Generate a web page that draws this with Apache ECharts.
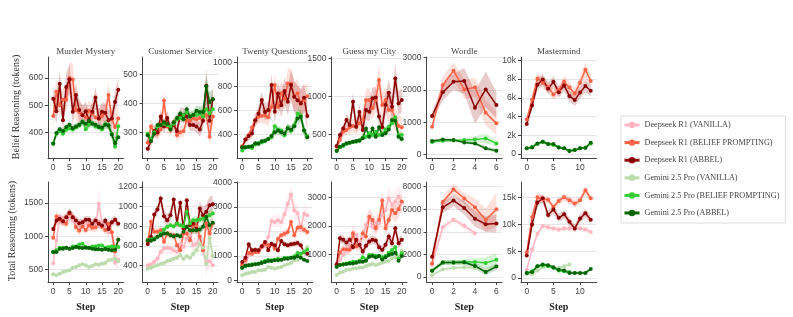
<!DOCTYPE html>
<html><head><meta charset="utf-8">
<script src="https://cdn.jsdelivr.net/npm/echarts@6/dist/echarts.min.js"></script>
<style>html,body{margin:0;padding:0;background:#fff}#c{width:793px;height:317px}</style>
</head><body><div id="c"></div>
<script>
// ---------- Series names / colours ----------
const NAMES = ['Deepseek R1 (VANILLA)','Deepseek R1 (BELIEF PROMPTING)','Deepseek R1 (ABBEL)','Gemini 2.5 Pro (VANILLA)','Gemini 2.5 Pro (BELIEF PROMPTING)','Gemini 2.5 Pro (ABBEL)'];
const COLORS = ['#ffb6c1','#ff6347','#8b0000','#bcdcae','#32cd32','#006400'];
const TITLES = ['Murder Mystery','Customer Service','Twenty Questions','Guess my City','Wordle','Mastermind'];

// ---------- Tick labels ----------
const X21_TICKS = [0,5,10,15,20];
const X7_TICKS = [0,2,4,6];
const X13_TICKS = [0,5,10];
const mmB_yt = [400,500,600];
const csB_yt = [300,400,500];
const tqB_yt = [400,600,800,1000];
const gcB_yt = [500,1000,1500];
const wdB_yt = [0,1000,2000,3000];
const mmdB_yt = [0,2000,4000,6000,8000,10000];
const mmT_yt = [500,1000,1500];
const csT_yt = [400,600,800,1000,1200];
const tqT_yt = [0,1000,2000,3000,4000];
const gcT_yt = [1000,2000,3000];
const wdT_yt = [0,2000,4000,6000,8000];
const mmdT_yt = [0,5000,10000,15000];

// ---------- Belief reasoning (top row) ----------
const mmB_dsBP = [460,549,500,520,520,600,594,482,475,465,455,480,470,455,450,460,470,537,450,420,451];
const mmB_dsAB = [524,478,579,445,567,595,476,537,482,463,478,445,476,528,451,476,472,445,451,512,557];
const mmB_gBP  = [360,395,405,395,410,415,412,420,425,440,412,428,435,422,420,412,430,428,395,348,423];
const mmB_gAB  = [358,398,412,405,420,428,415,422,428,438,432,442,432,428,420,418,428,425,392,360,382];
const mmB_dsBP_e = [45,45,40,40,45,55,60,45,40,35,35,35,35,35,35,35,40,45,45,45,45];
const mmB_dsAB_e = [50,45,50,45,50,55,50,45,40,35,35,35,35,40,35,35,35,35,35,40,40];
const mmB_gBP_e  = [12,12,12,12,12,12,12,12,12,12,12,12,12,12,12,14,15,15,18,25,25];
const mmB_gAB_e  = [12,12,12,12,12,12,12,12,12,12,12,12,12,12,12,14,15,15,18,22,22];

const csB_dsBP = [265,320,300,295,310,410,320,310,335,290,300,305,340,340,350,345,350,355,360,285,355];
const csB_dsAB = [243,270,305,300,355,320,350,315,325,305,360,360,355,325,325,320,310,340,461,340,415];
const csB_gBP  = [295,275,300,320,325,330,325,320,330,345,350,360,370,355,360,360,365,355,380,365,380];
const csB_gAB  = [290,270,295,325,325,335,330,310,335,350,365,345,380,355,360,375,370,370,460,405,415];
const csB_dsBP_e = [20,25,20,20,20,35,25,20,20,20,20,20,20,20,20,20,25,25,25,30,30];
const csB_dsAB_e = [20,20,20,20,25,25,25,20,20,20,25,25,25,20,20,20,25,30,60,40,40];
const csB_gBP_e  = [10,12,12,12,12,12,12,12,14,14,15,15,15,15,15,18,20,25,30,30,30];
const csB_gAB_e  = [10,12,12,12,12,12,12,12,14,14,15,15,15,15,15,18,20,25,40,35,35];

const tqB_dsBP = [305,360,395,460,520,550,555,560,545,630,813,630,745,700,826,826,716,745,660,690,720];
const tqB_dsAB = [295,360,390,410,520,575,689,590,605,813,592,743,646,765,674,813,716,688,661,707,556];
const tqB_gBP  = [268,295,300,290,318,330,337,350,365,380,470,442,436,395,460,436,478,575,560,436,387];
const tqB_gAB  = [295,295,300,305,330,325,345,350,365,390,420,435,420,410,455,442,470,535,550,436,380];
const tqB_dsBP_e = [20,30,35,40,50,60,60,70,70,80,90,90,100,100,120,130,120,120,110,110,110];
const tqB_dsAB_e = [20,30,35,40,50,60,70,70,70,90,90,100,100,110,110,130,130,120,120,120,110];
const tqB_gBP_e  = [15,15,15,15,18,18,20,20,20,25,30,30,30,30,35,35,40,50,50,50,45];
const tqB_gAB_e  = [15,15,15,15,18,18,20,20,20,25,30,30,30,30,35,35,40,45,45,45,40];

const gcB_dsBP = [343,430,540,562,598,616,605,650,692,956,956,847,956,1218,890,956,825,825,716,616,598];
const gcB_dsAB = [352,496,583,692,627,934,605,800,562,825,803,978,991,738,598,890,1052,869,1240,912,956];
const gcB_gBP  = [286,334,352,378,396,409,409,430,465,474,518,496,540,496,509,570,605,650,729,496,496];
const gcB_gAB  = [290,343,365,387,396,409,417,422,452,583,474,583,474,598,496,518,570,692,683,474,443];
const gcB_dsBP_e = [30,50,60,70,80,90,90,100,100,150,150,150,160,200,170,170,170,170,150,140,140];
const gcB_dsAB_e = [30,50,60,80,80,120,90,100,100,130,130,140,140,130,130,150,170,160,200,160,160];
const gcB_gBP_e  = [15,20,20,20,20,25,25,25,30,30,35,35,35,35,35,40,45,50,60,50,50];
const gcB_gAB_e  = [15,20,20,20,20,25,25,25,30,40,35,40,35,40,35,40,45,55,55,50,45];

const wdB_dsBP = [866,2155,2598,2020,2082,1299,969];
const wdB_dsAB = [1196,1928,2258,2278,1454,2020,1536];
const wdB_gBP  = [392,433,443,454,474,505,350];
const wdB_gAB  = [423,474,454,381,350,196,124];
const wdB_dsBP_e = [100,250,250,300,300,400,350];
const wdB_dsAB_e = [120,250,250,400,500,550,400];
const wdB_gBP_e  = [40,40,40,60,100,150,100];
const wdB_gAB_e  = [40,40,40,40,50,60,60];

const mmdB_dsBP = [3690,5800,8050,7600,7160,6350,6800,7700,7100,6450,7600,9000,7800];
const mmdB_dsAB = [3200,5180,7400,7950,6950,7700,6600,7300,6200,5750,6550,7250,6750];
const mmdB_gBP  = [600,780,1060,1300,1060,960,710,600,350,430,600,670,1130];
const mmdB_gAB  = [600,700,1130,1300,1060,1060,700,600,320,430,600,670,1200];
const mmdB_dsBP_e = [300,500,600,600,600,600,600,600,600,600,700,800,700];
const mmdB_dsAB_e = [300,500,600,600,600,600,600,600,600,600,600,700,600];
const mmdB_gBP_e  = [100,120,150,150,150,150,120,120,100,100,120,120,150];
const mmdB_gAB_e  = [100,120,150,150,150,150,120,120,100,100,120,120,150];

// ---------- Total reasoning (bottom row) ----------
const mmT_dsV  = [593,935,1286,1236,1261,1311,1236,1211,1186,1146,1186,1161,1186,1161,1490,1186,1136,1060,1060,600,650];
const mmT_dsBP = [975,1296,1246,1226,1186,1337,1286,1136,1085,1146,1095,1160,1126,1136,1196,1146,1095,1186,1060,770,950];
const mmT_dsAB = [1110,1236,1261,1226,1286,1352,1286,1236,1196,1211,1246,1246,1186,1236,1186,1161,1236,1110,1211,1246,1186];
const mmT_gV   = [425,410,435,460,475,485,525,535,560,575,560,535,550,575,570,585,595,636,646,661,626];
const mmT_gBP  = [760,786,826,826,826,811,846,846,876,886,836,826,846,846,861,861,826,836,846,836,836];
const mmT_gAB  = [760,760,811,811,826,811,821,836,826,821,826,821,811,801,801,796,806,796,786,796,947];
const mmT_dsV_e  = [80,120,100,90,90,90,90,90,80,80,80,80,80,80,250,90,90,100,100,120,120];
const mmT_dsBP_e = [70,80,70,70,70,80,70,70,70,70,70,70,70,70,70,70,70,80,80,100,100];
const mmT_dsAB_e = [60,70,70,70,70,70,70,60,60,60,60,60,60,60,60,60,60,70,70,70,70];
const mmT_gV_e   = [20,20,20,20,20,20,20,20,20,25,25,25,25,25,25,25,30,30,35,40,40];
const mmT_gBP_e  = [25,25,25,25,25,25,25,25,25,25,25,25,25,25,25,25,30,30,35,40,40];
const mmT_gAB_e  = [25,25,25,25,25,25,25,25,25,25,25,25,25,25,25,25,30,30,35,40,50];

const csT_dsV  = [402,409,436,470,538,572,579,572,555,538,623,589,674,708,606,623,691,555,436,443,402];
const csT_dsBP = [640,844,742,742,759,640,725,708,708,606,555,725,725,657,810,810,691,555,827,725,827];
const csT_dsAB = [617,691,919,970,1082,902,861,912,1072,827,1038,776,1065,810,827,766,980,912,946,1014,1024];
const csT_gV   = [366,376,390,400,417,423,444,451,468,478,502,468,492,478,519,553,620,580,420,680,495];
const csT_gBP  = [657,664,674,691,725,766,793,810,800,827,810,800,946,827,861,861,868,878,895,912,929];
const csT_gAB  = [657,650,664,691,708,725,725,708,698,708,698,742,793,759,759,759,766,793,895,810,834];
const csT_dsV_e  = [20,30,40,50,60,60,60,60,60,60,70,70,80,80,80,80,90,90,90,90,90];
const csT_dsBP_e = [30,60,50,40,40,40,40,40,40,40,50,50,50,50,60,60,60,70,70,70,70];
const csT_dsAB_e = [30,40,50,50,60,60,60,60,60,60,60,60,60,60,60,60,70,80,80,90,90];
const csT_gV_e   = [15,15,15,15,20,20,20,20,20,25,25,30,30,30,40,50,80,100,150,150,120];
const csT_gBP_e  = [20,20,20,20,25,25,25,30,30,30,30,30,40,40,40,40,40,40,50,50,50];
const csT_gAB_e  = [20,20,20,20,25,25,25,30,30,30,30,30,40,40,40,40,40,40,60,50,50];

const tqT_dsV  = [640,655,1024,1160,1160,1229,1365,1392,1775,2430,2389,2457,2389,2703,3140,3522,2867,2758,2116,2730,2662];
const tqT_dsBP = [614,819,1119,1092,1160,1160,1365,1474,1433,1474,1297,1706,1843,1911,1980,2389,1843,2157,2184,2075,1980];
const tqT_dsAB = [751,928,1474,1229,1256,1229,1392,1570,1229,1502,1433,1229,1611,1474,1433,1474,1502,1529,1433,1160,1092];
const tqT_gV   = [205,273,300,341,341,410,410,437,546,519,478,519,546,614,655,710,819,846,956,1200,1350];
const tqT_gBP  = [519,573,614,655,655,683,751,792,846,819,846,887,846,928,928,928,983,1119,1092,1160,1256];
const tqT_gAB  = [519,601,614,628,655,683,710,751,792,792,819,819,846,887,887,928,928,983,928,846,792];
const tqT_dsV_e  = [60,80,100,100,120,120,150,150,200,250,250,250,250,300,350,400,350,350,350,350,350];
const tqT_dsBP_e = [60,80,100,100,100,100,120,120,120,120,120,150,150,150,170,200,170,170,170,170,170];
const tqT_dsAB_e = [60,80,100,100,100,100,100,100,100,100,100,100,120,120,120,120,120,120,120,120,120];
const tqT_gV_e   = [30,30,30,30,30,40,40,40,50,50,50,50,50,60,60,60,70,80,80,100,120];
const tqT_gBP_e  = [30,30,30,30,30,40,40,40,50,50,50,50,50,60,60,60,70,80,80,100,100];
const tqT_gAB_e  = [30,30,30,30,30,40,40,40,50,50,50,50,50,60,60,60,70,70,70,70,70];

const gcT_dsV  = [610,820,994,1110,1400,1750,1690,1460,1630,2035,2325,1977,2093,2093,2383,2558,2965,2733,2849,3023,2790];
const gcT_dsBP = [645,1075,1192,1192,1168,1750,1285,1343,1750,1634,2325,2209,1919,2209,2883,1919,2209,2558,2441,2581,2849];
const gcT_dsAB = [668,1575,1517,1424,1517,1261,1517,1343,1110,1308,1459,1517,1494,1261,1168,1343,1634,1401,1919,1401,1517];
const gcT_gV   = [290,372,407,465,488,523,523,558,558,605,640,674,640,674,720,755,790,872,907,907,1140];
const gcT_gBP  = [581,640,674,697,720,755,755,790,907,837,988,988,953,953,907,953,1070,1163,1256,872,1047];
const gcT_gAB  = [581,640,663,674,697,697,720,755,755,790,930,953,907,953,837,907,988,1023,1070,790,953];
const gcT_dsV_e  = [60,100,120,150,200,250,250,250,250,300,300,300,300,300,350,350,400,400,400,400,400];
const gcT_dsBP_e = [60,150,150,150,150,200,180,180,200,200,250,250,250,250,300,250,250,300,300,300,300];
const gcT_dsAB_e = [60,150,150,150,150,150,150,150,150,150,150,150,150,150,150,150,180,180,200,180,180];
const gcT_gV_e   = [30,30,30,40,40,40,40,40,40,50,50,50,50,50,60,60,60,70,70,70,100];
const gcT_gBP_e  = [40,40,40,40,40,50,50,50,60,60,70,70,70,70,70,80,80,90,100,80,80];
const gcT_gAB_e  = [40,40,40,40,40,50,50,50,60,60,70,70,70,70,70,80,80,90,90,80,80];

const wdT_dsV  = [1100,4418,5075,4537,3880];
const wdT_dsBP = [1194,6657,7761,6955,6179,5045,6000];
const wdT_dsAB = [1791,6179,6776,6120,5164,4687,4746];
const wdT_gV   = [150,687,806,866,806];
const wdT_gBP  = [567,1284,1284,1343,1343,1254,1522];
const wdT_gAB  = [567,1284,1284,1313,985,448,925];
const wdT_dsV_e  = [200,300,300,300,300];
const wdT_dsBP_e = [300,500,500,500,800,1000,1500];
const wdT_dsAB_e = [300,500,500,600,700,700,800];
const wdT_gV_e   = [80,150,150,200,250];
const wdT_gBP_e  = [150,200,200,250,300,500,600];
const wdT_gAB_e  = [150,200,200,200,300,300,300];

const mmdT_dsV  = [1560,5300,8250,9700,9500,9250,9050,9250,9250,9250,9250,9050,8600];
const mmdT_dsBP = [4800,11400,15100,14700,14600,13250,14400,15100,14500,13900,14500,16400,14900];
const mmdT_dsAB = [4200,10000,14100,14900,11750,12800,11250,11900,10500,9250,11100,12100,10900];
const mmdT_gV   = [750,750,1400,2000,2200,1900,1900,2200,2500];
const mmdT_gBP  = [950,1250,2200,2400,2200,1900,1400,1250,1100];
const mmdT_gAB  = [950,1100,2200,2500,2400,2000,1560,1400,950,950,950,950,1700];
const mmdT_dsV_e  = [300,500,600,500,500,500,500,500,500,500,500,500,500];
const mmdT_dsBP_e = [500,700,800,700,700,700,700,700,700,700,700,800,700];
const mmdT_dsAB_e = [500,700,800,800,800,800,800,800,800,800,800,800,800];
const mmdT_gV_e   = [200,200,300,300,300,300,300,300,300];
const mmdT_gBP_e  = [200,200,300,300,300,300,300,300,300];
const mmdT_gAB_e  = [200,200,300,300,300,300,300,300,300,300,300,300,300];

// ---------- Panel assembly ----------
const X21 = [-1.6, 21.6], X7 = [-0.52, 6.52], X13 = [-1.08, 13.08];
const panels = [
  {row:0,col:0,x:X21,xt:X21_TICKS,y:[305,677],yt:mmB_yt,s:[null,[mmB_dsBP,mmB_dsBP_e],[mmB_dsAB,mmB_dsAB_e],null,[mmB_gBP,mmB_gBP_e],[mmB_gAB,mmB_gAB_e]]},
  {row:0,col:1,x:X21,xt:X21_TICKS,y:[210,561],yt:csB_yt,s:[null,[csB_dsBP,csB_dsBP_e],[csB_dsAB,csB_dsAB_e],null,[csB_gBP,csB_gBP_e],[csB_gAB,csB_gAB_e]]},
  {row:0,col:2,x:X21,xt:X21_TICKS,y:[204,1047],yt:tqB_yt,s:[null,[tqB_dsBP,tqB_dsBP_e],[tqB_dsAB,tqB_dsAB_e],null,[tqB_gBP,tqB_gBP_e],[tqB_gAB,tqB_gAB_e]]},
  {row:0,col:3,x:X21,xt:X21_TICKS,y:[190,1522],yt:gcB_yt,s:[null,[gcB_dsBP,gcB_dsBP_e],[gcB_dsAB,gcB_dsAB_e],null,[gcB_gBP,gcB_gBP_e],[gcB_gAB,gcB_gAB_e]]},
  {row:0,col:4,x:X7,xt:X7_TICKS,y:[-111,3021],yt:wdB_yt,s:[null,[wdB_dsBP,wdB_dsBP_e],[wdB_dsAB,wdB_dsAB_e],null,[wdB_gBP,wdB_gBP_e],[wdB_gAB,wdB_gAB_e]]},
  {row:0,col:5,x:X13,xt:X13_TICKS,y:[-460,10350],yt:mmdB_yt,k:true,s:[null,[mmdB_dsBP,mmdB_dsBP_e],[mmdB_dsAB,mmdB_dsAB_e],null,[mmdB_gBP,mmdB_gBP_e],[mmdB_gAB,mmdB_gAB_e]]},
  {row:1,col:0,x:X21,xt:X21_TICKS,y:[309,1817],yt:mmT_yt,s:[[mmT_dsV,mmT_dsV_e],[mmT_dsBP,mmT_dsBP_e],[mmT_dsAB,mmT_dsAB_e],[mmT_gV,mmT_gV_e],[mmT_gBP,mmT_gBP_e],[mmT_gAB,mmT_gAB_e]]},
  {row:1,col:1,x:X21,xt:X21_TICKS,y:[230,1251],yt:csT_yt,s:[[csT_dsV,csT_dsV_e],[csT_dsBP,csT_dsBP_e],[csT_dsAB,csT_dsAB_e],[csT_gV,csT_gV_e],[csT_gBP,csT_gBP_e],[csT_gAB,csT_gAB_e]]},
  {row:1,col:2,x:X21,xt:X21_TICKS,y:[-70,4030],yt:tqT_yt,s:[[tqT_dsV,tqT_dsV_e],[tqT_dsBP,tqT_dsBP_e],[tqT_dsAB,tqT_dsAB_e],[tqT_gV,tqT_gV_e],[tqT_gBP,tqT_gBP_e],[tqT_gAB,tqT_gAB_e]]},
  {row:1,col:3,x:X21,xt:X21_TICKS,y:[50,3530],yt:gcT_yt,s:[[gcT_dsV,gcT_dsV_e],[gcT_dsBP,gcT_dsBP_e],[gcT_dsAB,gcT_dsAB_e],[gcT_gV,gcT_gV_e],[gcT_gBP,gcT_gBP_e],[gcT_gAB,gcT_gAB_e]]},
  {row:1,col:4,x:X7,xt:X7_TICKS,y:[-440,8420],yt:wdT_yt,s:[[wdT_dsV,wdT_dsV_e],[wdT_dsBP,wdT_dsBP_e],[wdT_dsAB,wdT_dsAB_e],[wdT_gV,wdT_gV_e],[wdT_gBP,wdT_gBP_e],[wdT_gAB,wdT_gAB_e]]},
  {row:1,col:5,x:X13,xt:X13_TICKS,y:[-750,17930],yt:mmdT_yt,k:true,s:[[mmdT_dsV,mmdT_dsV_e],[mmdT_dsBP,mmdT_dsBP_e],[mmdT_dsAB,mmdT_dsAB_e],[mmdT_gV,mmdT_gV_e],[mmdT_gBP,mmdT_gBP_e],[mmdT_gAB,mmdT_gAB_e]]}
];

const COL_LEFT = [48, 142.5, 237, 331.5, 426.5, 521];
const PW = 75.5;
const ROW_TOP = [57, 182];
const ROW_H = [101.3, 100];
const AX = '#444';
const SANS = 'Liberation Sans';
const SERIF = 'Liberation Serif';

function bandRenderer(rows, color) {
  return function (params, api) {
    if (params.dataIndex !== 0) return null;
    const upper = rows.map(r => api.coord([r[0], r[2]]));
    const lower = rows.map(r => api.coord([r[0], r[1]])).reverse();
    return {type:'polygon', shape:{points: upper.concat(lower)},
      style:{fill: color, opacity: 0.2}, silent:true};
  };
}

const grids = [], xAxes = [], yAxes = [], series = [], graphics = [];
panels.forEach((p, i) => {
  grids.push({left: COL_LEFT[p.col], top: ROW_TOP[p.row], width: PW, height: ROW_H[p.row], containLabel: false});
  xAxes.push({type:'value', gridIndex:i, min:p.x[0], max:p.x[1],
    axisLine:{show:true, onZero:false, lineStyle:{color:AX, width:1}},
    axisTick:{show:true, customValues:p.xt, length:3, lineStyle:{color:AX}},
    axisLabel:{customValues:p.xt, fontSize:8.5, fontFamily:SANS, color:AX, margin:5},
    splitLine:{show:false}});
  yAxes.push({type:'value', gridIndex:i, min:p.y[0], max:p.y[1],
    axisLine:{show:true, onZero:false, lineStyle:{color:AX, width:1}},
    axisTick:{show:true, customValues:p.yt, length:3, lineStyle:{color:AX}},
    axisLabel:{customValues:p.yt, fontSize:8.5, fontFamily:SANS, color:AX, margin:5,
      formatter: p.k ? (v => v === 0 ? '0' : (v/1000) + 'k') : (v => String(v))},
    splitLine:{show:true, lineStyle:{color:'#e6e6e6', width:1}}});
  p.s.forEach((d, k) => {
    if (!d) return;
    const vals = d[0], errs = d[1];
    const rows = vals.map((v, j) => [j, v - errs[j], v + errs[j]]);
    series.push({type:'custom', xAxisIndex:i, yAxisIndex:i, silent:true, z:1, clip:true,
      encode:{x:0, y:[1,2]}, data: rows, renderItem: bandRenderer(rows, COLORS[k])});
  });
  p.s.forEach((d, k) => {
    if (!d) return;
    series.push({type:'line', name:NAMES[k], xAxisIndex:i, yAxisIndex:i, z:3,
      symbol:'circle', symbolSize:4, showSymbol:true,
      lineStyle:{color:COLORS[k], width:1.5}, itemStyle:{color:COLORS[k]},
      data: d[0].map((v, j) => [j, v])});
  });
  if (p.row === 0) {
    graphics.push({type:'text', x: COL_LEFT[p.col] + PW/2, y: 51.5,
      style:{text: TITLES[p.col], align:'center', verticalAlign:'middle', fill:AX, font:'9px "Liberation Serif"'}});
  } else {
    graphics.push({type:'text', x: COL_LEFT[p.col] + PW/2, y: 307,
      style:{text:'Step', align:'center', verticalAlign:'middle', fill:'#222', font:'bold 10px "Liberation Serif"'}});
  }
});
graphics.push({type:'text', x:16, y:107, rotation:Math.PI/2,
  style:{text:'Belief Reasoning (tokens)', align:'center', verticalAlign:'middle', fill:'#333', font:'10px "Liberation Serif"'}});
graphics.push({type:'text', x:12.7, y:231, rotation:Math.PI/2,
  style:{text:'Total Reasoning (tokens)', align:'center', verticalAlign:'middle', fill:'#333', font:'10px "Liberation Serif"'}});

const chart = echarts.init(document.getElementById('c'), null, {renderer:'canvas'});
chart.setOption({
  animation:false,
  backgroundColor:'#fff',
  grid:grids, xAxis:xAxes, yAxis:yAxes, series:series, graphic:graphics,
  legend:{orient:'vertical', left:621, top:116, padding:[4,6,5,2], itemGap:7.6,
    itemWidth:15, itemHeight:8, borderColor:'#ddd', borderWidth:1,
    lineStyle:{width:3},
    textStyle:{fontSize:8.2, fontFamily:SERIF, color:AX, lineHeight:10},
    data: NAMES}
});
</script></body></html>
